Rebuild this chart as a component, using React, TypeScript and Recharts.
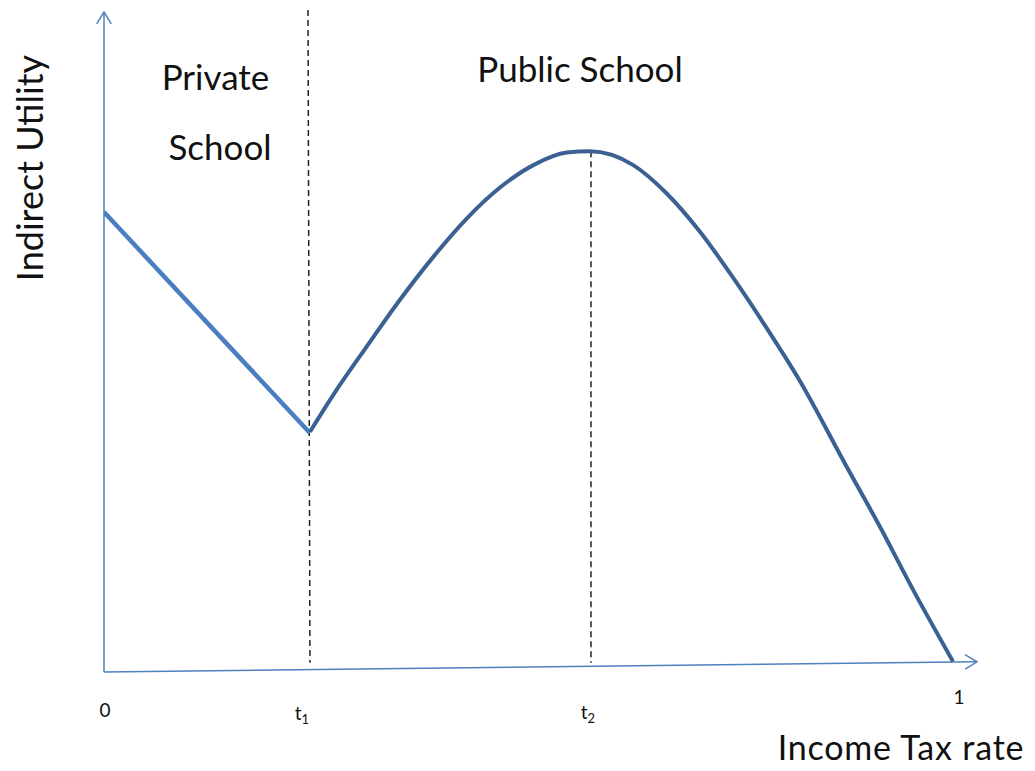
import { ComposedChart, Line, XAxis, YAxis, ReferenceLine } from "recharts";

// Indirect utility vs. income tax rate: private-school segment up to t1,
// public-school hump peaking at t2, falling to zero at t = 1.

const T1 = 0.2426;
const T2 = 0.5736;
const T_AXIS_END = 1.0283;

const privateT = [0, T1];
const privateU = [69.7, 36.2];

const publicT = [
  0.2426, 0.2701, 0.3094, 0.3486, 0.3879, 0.4272, 0.4664, 0.5057, 0.545, 0.5724,
  0.6234, 0.6628, 0.702, 0.7412, 0.7806, 0.8178, 0.8748, 0.914, 0.9532, 1.0,
];
const publicU = [
  36.4, 42.0, 49.3, 56.4, 62.9, 68.7, 73.4, 76.8, 78.7, 78.9,
  76.8, 72.5, 66.7, 59.7, 52.1, 44.5, 31.1, 22.0, 12.4, 1.6,
];

const tickValues = [0, T1, T2, 1];
const tickBase = ["0", "t", "t", "1"];
const tickSub = ["", "1", "2", ""];

const privateData = privateT.map((t, i) => ({ t, u: privateU[i] }));
const publicData = publicT.map((t, i) => ({ t, u: publicU[i] }));

const FONT = "Lato, 'Open Sans', sans-serif";
const AXIS_BLUE = "#4f81bd";

// label nudges, [dx, dy] from the tick anchor
const TICK_SHIFT: [number, number][] = [
  [1, 37],
  [-8, 40],
  [-3, 39],
  [6, 24],
];

function TaxTick(props: any) {
  const { x, y, payload } = props;
  const i = tickValues.indexOf(payload.value);
  if (i < 0) return null;
  const [dx, dy] = TICK_SHIFT[i];
  return (
    <text x={x + dx} y={y + dy} textAnchor="middle" fontSize={19} fill="#111" fontFamily={FONT}>
      {tickBase[i]}
      {tickSub[i] && (
        <tspan fontSize={13} dy={4}>
          {tickSub[i]}
        </tspan>
      )}
    </text>
  );
}

function ArrowLine(props: any) {
  const { x1, y1, x2, y2 } = props;
  const a = Math.atan2(y2 - y1, x2 - x1);
  const len = 14;
  const spread = 0.55;
  const ax = x2 - len * Math.cos(a - spread);
  const ay = y2 - len * Math.sin(a - spread);
  const bx = x2 - len * Math.cos(a + spread);
  const by = y2 - len * Math.sin(a + spread);
  return (
    <g>
      <line x1={x1} y1={y1} x2={x2} y2={y2} stroke={AXIS_BLUE} strokeWidth={1.5} />
      <path d={`M${ax},${ay} L${x2},${y2} L${bx},${by}`} fill="none" stroke={AXIS_BLUE} strokeWidth={1.5} />
    </g>
  );
}

export default function App() {
  return (
    <div style={{ position: "absolute", left: 0, top: 0, width: 1035, height: 771, background: "#fff" }}>
      <ComposedChart width={1035} height={771} margin={{ top: 12, right: 58, left: 104, bottom: 0 }}>
        <XAxis
          type="number"
          dataKey="t"
          domain={[0, T_AXIS_END]}
          ticks={tickValues}
          allowDataOverflow
          axisLine={false}
          tickLine={false}
          height={99}
          tick={<TaxTick />}
          interval={0}
        />
        <YAxis type="number" dataKey="u" domain={[0, 100]} allowDataOverflow hide />

        <ReferenceLine segment={[{ x: 0, y: 0 }, { x: 0, y: 100 }]} shape={<ArrowLine />} ifOverflow="visible" />
        <ReferenceLine
          segment={[{ x: 0, y: 0 }, { x: T_AXIS_END, y: 1.55 }]}
          shape={<ArrowLine />}
          ifOverflow="visible"
        />
        <ReferenceLine
          segment={[{ x: 0.2403, y: 100.3 }, { x: 0.2426, y: 1.4 }]}
          stroke="#222"
          strokeWidth={1.5}
          strokeDasharray="6 4"
          ifOverflow="visible"
        />
        <ReferenceLine
          segment={[{ x: T2, y: 78.9 }, { x: T2, y: 1.4 }]}
          stroke="#222"
          strokeWidth={1.5}
          strokeDasharray="6 4"
          ifOverflow="visible"
        />

        <Line
          data={privateData}
          dataKey="u"
          type="linear"
          stroke="#4a7ec0"
          strokeWidth={4.5}
          dot={false}
          isAnimationActive={false}
        />
        <Line
          data={publicData}
          dataKey="u"
          type="monotone"
          stroke="#3b6192"
          strokeWidth={4}
          dot={false}
          isAnimationActive={false}
        />

        <text x={215.5} y={90} textAnchor="middle" fontSize={35} fill="#111" fontFamily={FONT}>
          Private
        </text>
        <text x={220} y={160} textAnchor="middle" fontSize={35} fill="#111" fontFamily={FONT}>
          School
        </text>
        <text x={580} y={82} textAnchor="middle" fontSize={35} fill="#111" fontFamily={FONT}>
          Public School
        </text>
        <text
          x={901}
          y={760}
          textAnchor="middle"
          fontSize={34}
          letterSpacing={0.8}
          fill="#111"
          fontFamily={FONT}
        >
          Income Tax rate
        </text>
        <text
          x={43}
          y={168}
          textAnchor="middle"
          fontSize={36}
          fill="#111"
          fontFamily={FONT}
          transform="rotate(-90 43 168)"
        >
          Indirect Utility
        </text>
      </ComposedChart>
    </div>
  );
}
